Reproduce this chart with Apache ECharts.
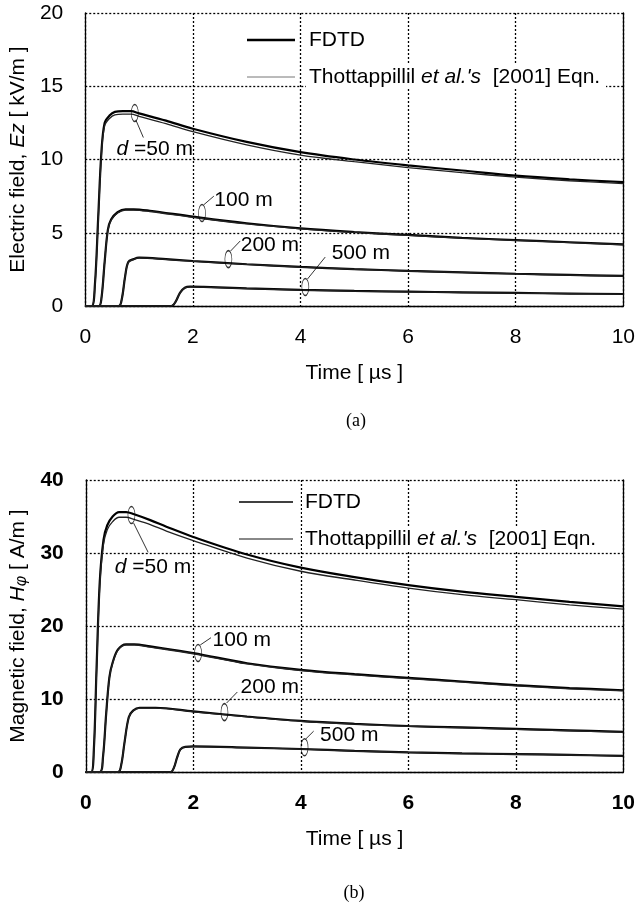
<!DOCTYPE html>
<html><head><meta charset="utf-8">
<script src="https://cdn.jsdelivr.net/npm/echarts@6/dist/echarts.min.js"></script>
<style>html,body{margin:0;padding:0;background:#fff}#c{width:638px;height:915px}</style>
</head><body><div id="c"></div>
<script>
// ---- Data: time [us], values ----
// (a) Electric field Ez [kV/m]
const E50_fdtd = [[0,0],[0.12,0],[0.18,1.5],[0.24,6],[0.3,10.5],[0.36,12.5],[0.45,13.0],[0.55,13.25],[0.7,13.3],[0.85,13.3],[1.0,13.15],[1.5,12.65],[2,12.1],[3,11.2],[4,10.5],[5,10.0],[6,9.6],[7,9.25],[8,8.9],[9,8.65],[10,8.45]];
const E50_thot = [[0,0],[0.12,0],[0.18,1.4],[0.24,5.8],[0.3,10.3],[0.36,12.3],[0.45,12.8],[0.55,13.05],[0.7,13.1],[0.85,13.1],[1.0,12.95],[1.5,12.45],[2,11.9],[3,11.0],[4,10.3],[5,9.85],[6,9.45],[7,9.1],[8,8.8],[9,8.55],[10,8.35]];
const E100_fdtd = [[0,0],[0.25,0],[0.3,0.5],[0.36,3],[0.42,5.2],[0.48,5.9],[0.6,6.4],[0.75,6.6],[0.9,6.6],[1.2,6.5],[2,6.1],[3,5.65],[4,5.3],[5,5.05],[6,4.85],[7,4.65],[8,4.5],[9,4.35],[10,4.2]];
const E100_thot = [[0,0],[0.25,0],[0.3,0.5],[0.36,3],[0.42,5.15],[0.48,5.85],[0.6,6.35],[0.75,6.55],[0.9,6.55],[1.2,6.45],[2,6.05],[3,5.6],[4,5.27],[5,5.02],[6,4.82],[7,4.63],[8,4.48],[9,4.33],[10,4.18]];
const E200_fdtd = [[0,0],[0.62,0],[0.68,0.5],[0.74,2],[0.8,3.0],[0.9,3.2],[1.0,3.3],[1.5,3.2],[2,3.07],[3,2.85],[4,2.67],[5,2.52],[6,2.4],[7,2.3],[8,2.2],[9,2.12],[10,2.05]];
const E200_thot = [[0,0],[0.62,0],[0.68,0.5],[0.74,2],[0.8,2.98],[0.9,3.18],[1.0,3.28],[1.5,3.18],[2,3.05],[3,2.84],[4,2.66],[5,2.51],[6,2.39],[7,2.29],[8,2.19],[9,2.11],[10,2.04]];
const E500_fdtd = [[0,0],[1.6,0],[1.68,0.3],[1.76,0.9],[1.85,1.25],[1.95,1.32],[2.2,1.3],[3,1.2],[4,1.1],[5,1.03],[6,0.98],[7,0.93],[8,0.89],[9,0.85],[10,0.82]];
const E500_thot = [[0,0],[1.6,0],[1.68,0.3],[1.76,0.9],[1.85,1.24],[1.95,1.31],[2.2,1.29],[3,1.19],[4,1.09],[5,1.02],[6,0.97],[7,0.92],[8,0.88],[9,0.84],[10,0.81]];
// (b) Magnetic field H_phi [A/m]
const H50_fdtd = [[0,0],[0.1,0],[0.15,3],[0.2,14],[0.26,26],[0.33,31.8],[0.4,33.8],[0.5,35.0],[0.62,35.6],[0.75,35.6],[0.9,35.3],[1.2,34.5],[1.5,33.6],[2,32.2],[3,29.8],[4,28.0],[5,26.7],[6,25.6],[7,24.7],[8,24.0],[9,23.3],[10,22.7]];
const H50_thot = [[0,0],[0.1,0],[0.15,2.8],[0.2,13.5],[0.26,25.4],[0.33,31.2],[0.4,33.2],[0.5,34.3],[0.62,34.9],[0.75,34.9],[0.9,34.6],[1.2,33.9],[1.5,33.0],[2,31.7],[3,29.3],[4,27.5],[5,26.3],[6,25.2],[7,24.3],[8,23.6],[9,22.9],[10,22.3]];
const H100_fdtd = [[0,0],[0.26,0],[0.32,2],[0.38,8],[0.44,13],[0.5,15],[0.6,16.8],[0.75,17.5],[0.9,17.5],[1.2,17.2],[2,16.3],[3,14.9],[4,14.0],[5,13.4],[6,12.9],[7,12.4],[8,11.9],[9,11.5],[10,11.2]];
const H100_thot = [[0,0],[0.26,0],[0.32,2],[0.38,7.9],[0.44,12.9],[0.5,14.9],[0.6,16.7],[0.75,17.4],[0.9,17.4],[1.2,17.1],[2,16.2],[3,14.8],[4,13.9],[5,13.3],[6,12.8],[7,12.3],[8,11.8],[9,11.4],[10,11.1]];
const H200_fdtd = [[0,0],[0.6,0],[0.66,1],[0.72,4],[0.8,7.5],[0.88,8.4],[1.0,8.8],[1.3,8.8],[2,8.3],[3,7.6],[4,7.0],[5,6.6],[6,6.3],[7,6.1],[8,5.9],[9,5.7],[10,5.5]];
const H200_thot = [[0,0],[0.6,0],[0.66,1],[0.72,4],[0.8,7.45],[0.88,8.35],[1.0,8.75],[1.3,8.75],[2,8.25],[3,7.55],[4,6.95],[5,6.55],[6,6.25],[7,6.05],[8,5.85],[9,5.65],[10,5.45]];
const H500_fdtd = [[0,0],[1.58,0],[1.64,0.6],[1.7,2.0],[1.76,3.1],[1.85,3.45],[2,3.5],[3,3.35],[4,3.15],[5,2.9],[6,2.7],[7,2.55],[8,2.45],[9,2.35],[10,2.2]];
const H500_thot = [[0,0],[1.58,0],[1.64,0.6],[1.7,2.0],[1.76,3.08],[1.85,3.43],[2,3.48],[3,3.33],[4,3.13],[5,2.88],[6,2.68],[7,2.53],[8,2.43],[9,2.33],[10,2.18]];

// Annotations: [ellipse t, ellipse v, leader start t,v, leader end t,v, label t,v, label]
const annotE = [
  [0.92,13.17, 0.94,12.7, 1.08,11.5, 0.57,10.7, 'd50'],
  [2.17,6.35, 2.2,6.9, 2.39,7.5, 2.39,7.24, '100 m'],
  [2.66,3.2, 2.7,3.75, 2.88,4.44, 2.88,4.16, '200 m'],
  [4.09,1.3, 4.13,1.84, 4.46,3.34, 4.57,3.6, '500 m']
];
const annotH = [
  [0.85,35.2, 0.89,34.1, 1.16,30.1, 0.53,28.1, 'd50'],
  [2.09,16.3, 2.13,17.4, 2.33,18.4, 2.35,18.1, '100 m'],
  [2.58,8.2, 2.62,9.45, 2.82,10.96, 2.87,11.6, '200 m'],
  [4.07,3.4, 4.09,4.5, 4.24,5.6, 4.35,5.1, '500 m']
];

const FONT = 'Liberation Sans, Arial, sans-serif';
const chart = echarts.init(document.getElementById('c'), null, {renderer:'canvas'});

function xAxisDef(gi,fw){
  return {type:'value', gridIndex:gi, min:0, max:10, interval:2,
    axisLine:{show:true,lineStyle:{color:'#000',width:1.3}}, axisTick:{show:false},
    axisLabel:{color:'#000',fontSize:21,fontFamily:FONT,margin:21,fontWeight:fw},
    splitLine:{show:true,lineStyle:{color:'#000',type:[2,2],width:1.3}},
    name:'Time [ \u00b5s ]', nameLocation:'middle', nameGap:57,
    nameTextStyle:{color:'#000',fontSize:21,fontFamily:FONT}};
}
function yAxisDef(gi,max,interval,nameRich,gap,fw){
  return {type:'value', gridIndex:gi, min:0, max:max, interval:interval,
    axisLine:{show:true,lineStyle:{color:'#000',width:1.3}}, axisTick:{show:false},
    axisLabel:{color:'#000',fontSize:21,fontFamily:FONT,margin:22,fontWeight:fw},
    splitLine:{show:true,lineStyle:{color:'#000',type:[2,2],width:1.3}},
    name:nameRich, nameLocation:'middle', nameGap:gap,
    nameTextStyle:{color:'#000',fontSize:21,fontFamily:FONT,
      rich:{i:{fontStyle:'italic',fontSize:21,fontFamily:FONT,color:'#000'},
            s:{fontStyle:'italic',fontSize:16,fontFamily:FONT,color:'#000',padding:[6,0,0,0]}}}};
}
function rightAxis(gi,max){
  return {type:'value', gridIndex:gi, position:'right', min:0, max:max,
    axisLine:{show:true,lineStyle:{color:'#000',width:1.3}}, axisTick:{show:false},
    axisLabel:{show:false}, splitLine:{show:false}};
}
function lineS(data,xi,yi,isF){
  return {type:'line', xAxisIndex:xi, yAxisIndex:yi, data:data, showSymbol:false, smooth:0.35,
    lineStyle:{color:isF?'#000':'#222', width:isF?2.2:1.3}, z:isF?3:4, animation:false};
}
function annotSeries(list,xi,yi){
  const ell = {type:'scatter', xAxisIndex:xi, yAxisIndex:yi, animation:false, z:6,
    symbol:'circle', symbolSize:[7,17],
    itemStyle:{color:'rgba(255,255,255,0)',borderColor:'#000',borderWidth:1},
    data:list.map(a=>[a[0],a[1]]),
    markLine:{silent:true,symbol:'none',animation:false,label:{show:false},
      lineStyle:{color:'#000',width:0.8,type:'solid'},
      data:list.map(a=>[{coord:[a[2],a[3]]},{coord:[a[4],a[5]]}])}};
  const lab = {type:'scatter', xAxisIndex:xi, yAxisIndex:yi, animation:false, z:7,
    symbolSize:1, itemStyle:{color:'rgba(0,0,0,0)'},
    data:list.map(a=>({value:[a[6],a[7]], name:a[8]})),
    label:{show:true, position:'right', distance:0,
      color:'#000', fontSize:21, fontFamily:FONT, textBorderWidth:0, opacity:1,
      formatter:p=>p.name==='d50' ? '{i|d}{n| =50 m}' : '{n|'+p.name+'}',
      rich:{i:{fontStyle:'italic',fontSize:21,fontFamily:FONT,color:'#000'},
            n:{fontSize:21,fontFamily:FONT,color:'#000'}}}};
  return [ell,lab];
}

const series = [
  lineS(E50_fdtd,0,0,true), lineS(E50_thot,0,0,false),
  lineS(E100_fdtd,0,0,true), lineS(E100_thot,0,0,false),
  lineS(E200_fdtd,0,0,true), lineS(E200_thot,0,0,false),
  lineS(E500_fdtd,0,0,true), lineS(E500_thot,0,0,false),
  lineS(H50_fdtd,1,2,true), lineS(H50_thot,1,2,false),
  lineS(H100_fdtd,1,2,true), lineS(H100_thot,1,2,false),
  lineS(H200_fdtd,1,2,true), lineS(H200_thot,1,2,false),
  lineS(H500_fdtd,1,2,true), lineS(H500_thot,1,2,false),
  ...annotSeries(annotE,0,0), ...annotSeries(annotH,1,2)
];

const legendRich = {n:{fontSize:21,fontFamily:FONT,color:'#000'}, i:{fontSize:21,fontFamily:FONT,fontStyle:'italic',color:'#000'}};
function legendGraphic(y1,y2,x0,x1,tx,fw,tw,tc){
  return [
    {type:'line',shape:{x1:x0,y1:y1,x2:x1,y2:y1},style:{stroke:'#000',lineWidth:fw},z:10},
    {type:'rect',shape:{x:tx-3,y:y1-12,width:60,height:24},style:{fill:'#fff'},z:9},
    {type:'text',x:tx,y:y1,style:{text:'FDTD',font:'21px '+FONT,fill:'#000',verticalAlign:'middle'},z:10},
    {type:'line',shape:{x1:x0,y1:y2,x2:x1,y2:y2},style:{stroke:tc,lineWidth:tw},z:10},
    {type:'rect',shape:{x:tx-3,y:y2-12,width:300,height:24},style:{fill:'#fff'},z:9},
    {type:'text',x:tx,y:y2,style:{text:'{n|Thottappillil }{i|et al.\'s}{n|  [2001] Eqn.}',rich:legendRich,verticalAlign:'middle'},z:10}
  ];
}

chart.setOption({
  animation:false,
  grid:[{left:84,right:9,top:13,bottom:609},{left:79,right:9,top:480,bottom:143}],
  xAxis:[xAxisDef(0,'normal'),xAxisDef(1,'bold')],
  yAxis:[
    yAxisDef(0,20,5,'Electric field, {i|Ez} [ kV/m ]',46,'normal'),
    rightAxis(0,20),
    yAxisDef(1,40,10,'Magnetic field, {i|H}{s|\u03c6} [ A/m ]',40,'bold'),
    rightAxis(1,40)
  ],
  series:series,
  graphic:[
    ...legendGraphic(40,77,247,295,309,2.5,1,'#777'),
    ...legendGraphic(502,539,239,293,305,1.6,2,'#888'),
    {type:'text',x:356,y:421,style:{text:'(a)',font:'18px Liberation Serif, Times New Roman, serif',fill:'#000',align:'center',verticalAlign:'middle'}},
    {type:'text',x:354,y:893,style:{text:'(b)',font:'18px Liberation Serif, Times New Roman, serif',fill:'#000',align:'center',verticalAlign:'middle'}}
  ]
});
</script></body></html>
